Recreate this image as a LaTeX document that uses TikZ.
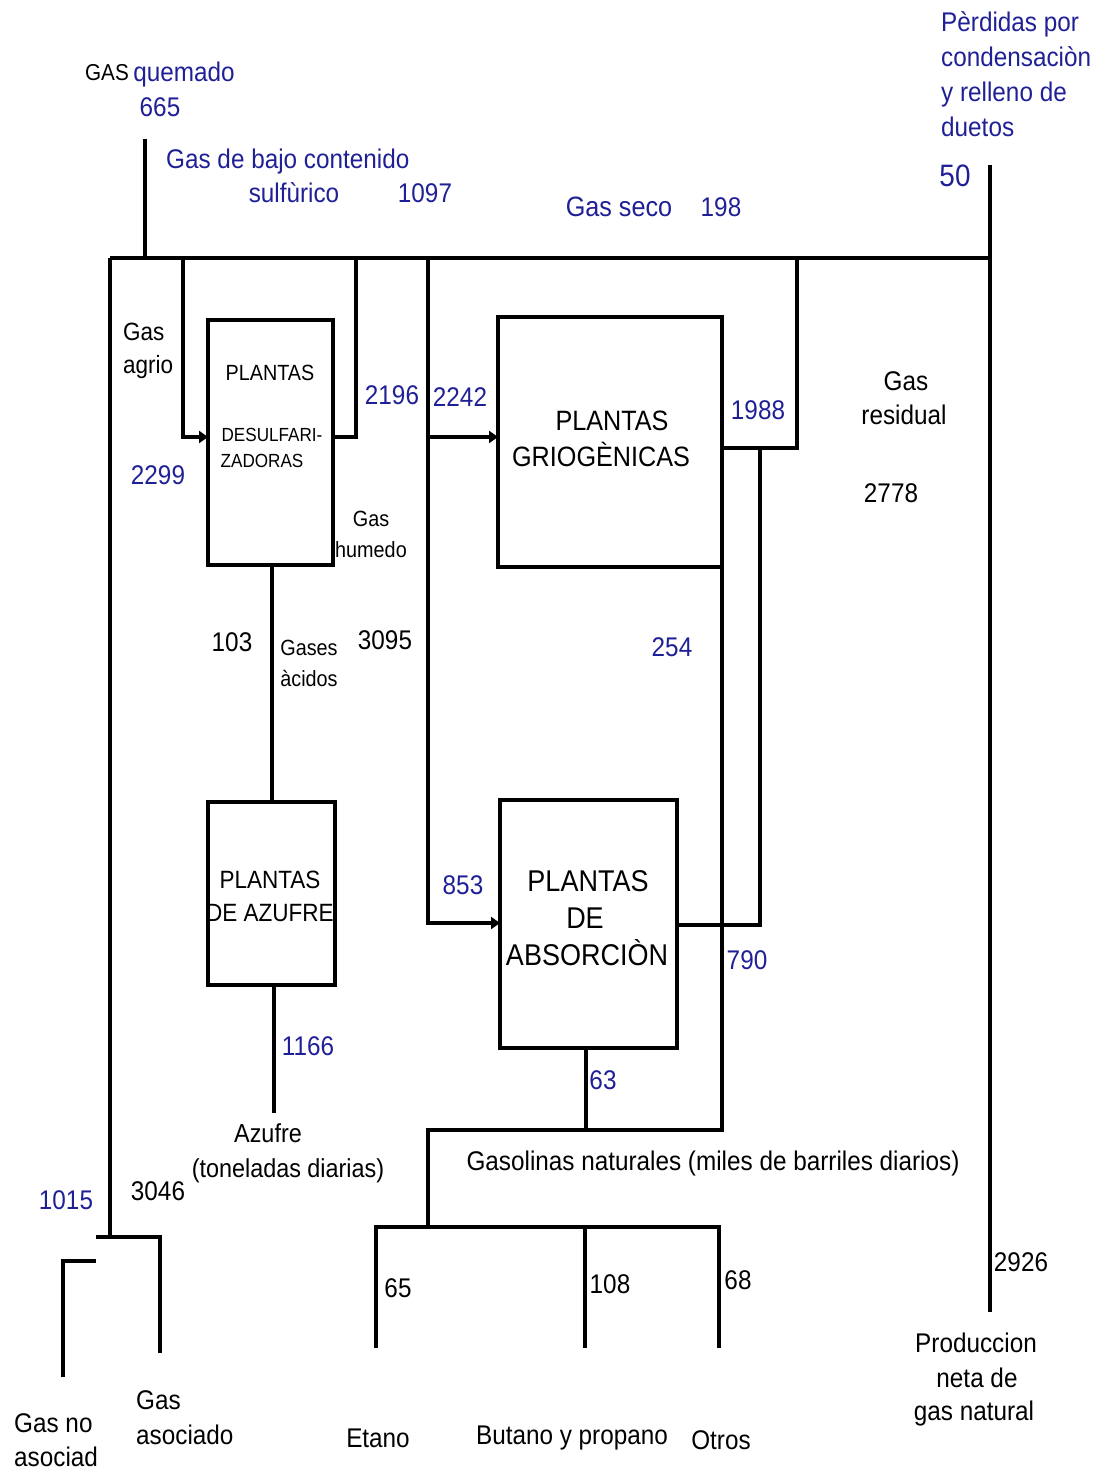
\documentclass[tikz,border=0pt]{standalone}
\usepackage{fontspec}
\setmainfont{Liberation Sans}[FakeStretch=0.9]
\usetikzlibrary{arrows.meta}
\definecolor{dblue}{RGB}{32,32,150}
\begin{document}
\begin{tikzpicture}[x=1pt,y=-1pt,
  ln/.style={line width=4.5pt},
  box/.style={draw,line width=4.5pt,inner sep=0pt,outer sep=0pt},
  arr/.style={ln,-{Triangle[length=9pt,width=12pt]}},
  tx/.style={anchor=base,inner sep=0pt,font=\fontsize{#1}{#1}\selectfont},
  tb/.style={tx=#1,text=dblue},
  tl/.style={tx=#1,anchor=base west},
  tlb/.style={tx=#1,anchor=base west,text=dblue}]
\useasboundingbox (0,0) rectangle (1104,1471);
% boxes
\node[box,minimum width=125pt,minimum height=245pt] (des) at (270.5,442.5) {};
\node[box,minimum width=224pt,minimum height=250pt] (grio) at (610,442) {};
\node[box,minimum width=127pt,minimum height=183pt] (azu) at (271.5,893.5) {};
\node[box,minimum width=177pt,minimum height=248pt] (abs) at (588.5,924) {};
% coordinates
\coordinate (tlc) at (110,258);
\coordinate (trc) at (990,258);
\coordinate (blc) at (110,1237);
\coordinate (qtop) at (145,139);
\coordinate (qbot) at (145,258);
\coordinate (rtop) at (990,165);
\coordinate (rbot) at (990,1312);
% connectors
\draw[ln] (tlc) -- (trc);
\draw[ln] (tlc) -- (blc);
\draw[ln] (qtop) -- (qbot);
\draw[ln] (rtop) -- (rbot);
\draw[ln] (96,1237) -- (160,1237) -- (160,1353);
\draw[ln] (63,1377) -- (63,1261) -- (96,1261);
\draw[arr] (183,258) |- (des.west |- 0,437);
\draw[ln] (des.east |- 0,437) -| (356,258);
\draw[arr] (428,258) |- (abs.west |- 0,923);
\draw[arr] (428,437) -- (grio.west |- 0,437);
\draw[ln] (grio.east |- 0,448) -| (797,258);
\draw[ln] (abs.east |- 0,925) -| (760,448);
\draw[ln] (grio.south east) -- (722,1130) -- (428,1130) -- (428,1227);
\draw[ln] (abs.south -| 586,0) -- (586,1130);
\draw[ln] (376,1348) -- (376,1227) -- (719,1227) -- (719,1348);
\draw[ln] (585,1227) -- (585,1348);
\draw[ln] (des.south -| 272,0) -- (azu.north -| 272,0);
\draw[ln] (azu.south -| 274,0) -- (274,1113);
% texts
\node[tx=23] (t1) at (107,81) {GAS};
\node[tb=27] (t2) at (184,82) {quemado};
\node[tb=27] (t3) at (160,117) {665};
\node[tlb=27] (t4) at (166,169) {Gas de bajo contenido};
\node[tb=27] (t5) at (294,203) {sulfùrico};
\node[tb=27] (t6) at (425,203) {1097};
\node[tb=28] (t7) at (619,217) {Gas seco};
\node[tb=27] (t8) at (721,217) {198};
\node[tlb=27] (t9) at (941,32) {Pèrdidas por};
\node[tlb=27] (t10) at (941,67) {condensaciòn};
\node[tlb=27] (t11) at (941,102) {y relleno de};
\node[tlb=27] (t12) at (941,137) {duetos};
\node[tb=31] (t13) at (955,187) {50};
\node[tl=25] (t14) at (123,340) {Gas};
\node[tl=25] (t15) at (123,373) {agrio};
\node[tx=22] (t16) at (270,380) {PLANTAS};
\node[tx=19] (t17) at (272,441) {DESULFARI-};
\node[tx=19] (t18) at (262,467) {ZADORAS};
\node[tb=27] (t19) at (392,404) {2196};
\node[tb=27] (t20) at (460,406) {2242};
\node[tb=27] (t21) at (158,484) {2299};
\node[tx=22] (t22) at (371,526) {Gas};
\node[tx=22] (t23) at (371,557) {humedo};
\node[tx=28] (t24) at (612,430) {PLANTAS};
\node[tx=28] (t25) at (601,466) {GRIOGÈNICAS};
\node[tb=27] (t26) at (758,419) {1988};
\node[tx=27] (t27) at (906,390) {Gas};
\node[tx=27] (t28) at (904,424) {residual};
\node[tx=27] (t29) at (891,502) {2778};
\node[tx=27] (t30) at (232,651) {103};
\node[tx=22] (t31) at (309,655) {Gases};
\node[tx=22] (t32) at (309,686) {àcidos};
\node[tx=27] (t33) at (385,649) {3095};
\node[tb=27] (t34) at (672,656) {254};
\node[tx=25] (t35) at (270,888) {PLANTAS};
\node[tx=25] (t36) at (270,921) {DE AZUFRE};
\node[tb=27] (t37) at (463,894) {853};
\node[tx=30] (t38) at (588,891) {PLANTAS};
\node[tx=30] (t39) at (585,928) {DE};
\node[tx=30] (t40) at (587,965) {ABSORCIÒN};
\node[tb=27] (t41) at (747,969) {790};
\node[tb=27] (t42) at (308,1055) {1166};
\node[tb=27] (t43) at (603,1089) {63};
\node[tx=26] (t44) at (268,1142) {Azufre};
\node[tx=26] (t45) at (288,1177) {(toneladas diarias)};
\node[tx=27] (t46) at (713,1170) {Gasolinas naturales (miles de barriles diarios)};
\node[tb=27] (t47) at (66,1209) {1015};
\node[tx=27] (t48) at (158,1200) {3046};
\node[tx=27] (t49) at (1021,1271) {2926};
\node[tx=27] (t50) at (398,1297) {65};
\node[tx=27] (t51) at (610,1293) {108};
\node[tx=27] (t52) at (738,1289) {68};
\node[tl=27] (t53) at (14,1432) {Gas no};
\node[tl=27] (t54) at (14,1466) {asociad};
\node[tl=27] (t55) at (136,1409) {Gas};
\node[tl=27] (t56) at (136,1444) {asociado};
\node[tx=27] (t57) at (378,1447) {Etano};
\node[tx=27] (t58) at (572,1444) {Butano y propano};
\node[tx=27] (t59) at (721,1449) {Otros};
\node[tx=27] (t60) at (976,1352) {Produccion};
\node[tx=27] (t61) at (977,1387) {neta de};
\node[tx=27] (t62) at (974,1420) {gas natural};
\end{tikzpicture}
\end{document}
